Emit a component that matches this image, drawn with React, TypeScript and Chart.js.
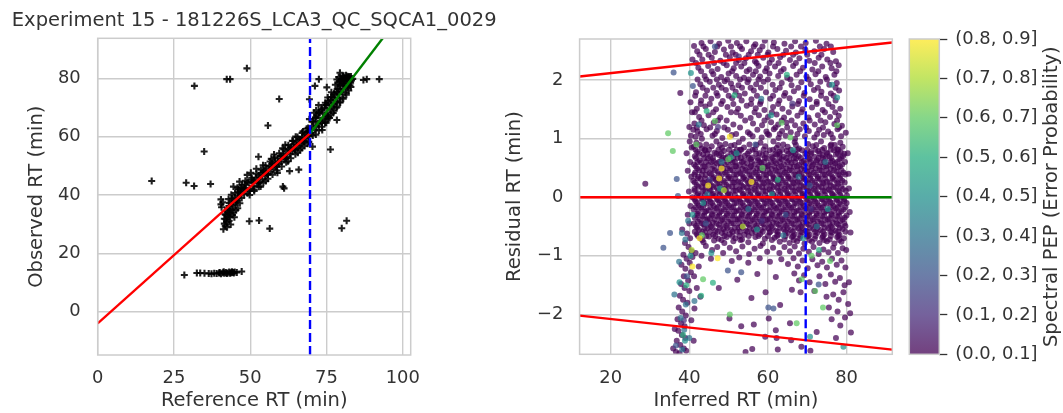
import { useEffect, useRef } from 'react';
import { Chart, registerables } from 'chart.js';

Chart.register(...registerables);

type Pt = [number, number];
type Row = [number, number[]];

const FONT = '"DejaVu Sans", sans-serif';
const INK = '#333333';
const GRID = '#cccccc';

// ---------- left panel: observed vs reference retention time ----------
const panelTitle = 'Experiment 15 - 181226S_LCA3_QC_SQCA1_0029';
const refRange = [0, 102.6];
const obsRange = [-14.8, 93.7];
const refTicks = [0, 25, 50, 75, 100];
const obsTicks = [0, 20, 40, 60, 80];
const splitRT = 69.6;
const lowerFit: Pt[] = [[0, -4.0], [69.6, 61.1]];
const upperFit: Pt[] = [[69.6, 61.1], [100, 102.7]];

const bandPoints: Pt[] = [
  [41.2,28.3],[41.8,29.5],[42.3,30.8],[41.5,31.9],[42.6,32.6],[43.1,31.2],[43.5,33.8],[42.2,34.5],[44.0,35.1],[43.0,36.2],
  [44.6,34.0],[45.1,36.8],[44.3,37.9],[42.9,38.6],[45.6,38.3],[46.2,39.9],[45.0,40.7],[43.8,40.1],[46.8,41.2],[45.8,42.5],
  [44.5,42.9],[47.3,43.4],[46.5,44.6],[47.9,42.0],[48.4,44.9],[43.6,29.9],[44.8,32.4],[45.9,35.5],[46.6,37.2],[47.2,39.0],
  [48.0,40.3],[41.0,37.5],[40.6,35.8],[42.0,33.2],[43.3,35.0],[44.9,39.2],[46.0,41.0],
  [41.5,30.2],[42.4,29.0],[42.0,31.7],[42.9,34.0],[43.4,32.5],[44.2,33.2],[44.4,36.4],[45.3,34.9],[45.4,37.6],[46.0,38.9],
  [43.2,37.3],[44.0,38.8],[46.9,40.3],[47.5,41.6],[47.0,42.6],[48.2,43.6],[42.6,35.5],[41.7,33.4],
  [48.6,42.3],[49.1,40.6],[49.5,44.1],[50.0,42.2],[50.4,45.3],[50.9,43.1],[51.3,41.9],[51.8,45.9],[52.2,44.0],[52.7,46.8],
  [53.1,44.6],[53.6,47.5],[54.0,45.4],[54.5,48.3],[54.9,46.5],[55.4,49.1],[55.8,47.2],[56.3,49.9],[56.7,48.0],[57.2,51.0],
  [57.6,48.9],[58.1,51.6],[58.5,49.8],[59.0,52.5],[59.4,50.6],[59.9,53.3],[60.3,51.5],[60.8,54.0],[61.2,52.4],[61.7,55.0],
  [62.1,53.2],[62.6,55.7],[63.0,54.1],[63.5,56.6],[63.9,55.0],[64.4,57.4],[64.8,55.9],[65.3,58.3],[65.7,56.8],[66.2,59.1],
  [66.6,57.5],[67.1,59.9],[67.5,58.4],[68.0,60.7],[68.4,59.3],[68.9,61.6],[69.3,60.1],
  [50.2,47.6],[52.0,49.0],[53.4,42.9],[55.1,44.8],[56.9,52.4],[58.9,47.6],[60.6,56.0],[62.4,51.6],[63.8,58.6],[65.6,54.5],
  [67.3,61.8],[68.8,57.6],[49.0,46.9],[54.2,50.2],[57.8,53.9],[61.5,57.2],[64.9,60.0],[66.9,56.1],[69.0,63.0],
  [51.0,44.4],[53.0,46.0],[55.0,47.8],[57.0,49.6],[59.2,51.4],[61.0,53.3],[63.2,55.3],[65.1,57.1],[67.0,58.8],[68.6,60.5],
  [49.0,44.5],[50.5,45.9],[52.0,47.3],[53.5,48.7],[55.0,50.1],[56.5,51.5],[58.0,52.9],[59.5,54.3],[61.0,55.7],[62.5,57.1],
  [64.0,58.5],[65.5,59.9],[67.0,61.3],[68.5,62.7],
  [49.8,40.0],[51.3,41.4],[52.8,42.8],[54.3,44.2],[55.8,45.6],[57.3,47.0],[58.8,48.4],[60.3,49.8],[61.8,51.2],[63.3,52.6],
  [64.8,54.0],[66.3,55.4],[67.8,56.8],[69.2,58.2],
  [48.2,42.2],[49.7,41.4],[51.2,45.0],[52.7,44.2],[54.2,47.8],[55.7,47.0],[57.2,50.6],[58.7,49.8],[60.2,53.4],[61.7,52.7],
  [63.2,56.3],[64.7,55.5],[66.2,59.1],[67.7,58.3],[69.2,61.9],
  [69.9,61.2],[70.2,63.5],[70.5,60.4],[70.8,65.0],[71.1,62.3],[71.4,66.4],[71.7,63.6],[72.0,67.3],[72.3,64.2],[72.6,68.4],
  [72.9,65.5],[73.2,69.2],[73.5,64.7],[73.8,67.9],[74.1,66.1],[74.4,69.8],[74.7,67.2],[75.0,70.9],[75.3,68.3],[75.6,66.9],
  [75.9,71.5],[76.2,69.4],[76.5,72.6],[76.8,70.3],[77.1,73.5],[77.4,71.2],[77.7,74.4],[78.0,72.1],[78.3,75.3],[78.6,73.2],
  [78.9,76.4],[79.2,74.6],[79.5,77.5],[79.8,75.5],[80.1,78.6],[80.4,76.4],[80.7,79.4],[81.0,77.5],[81.3,80.0],[81.6,78.3],
  [81.9,79.6],[82.2,80.3],[82.5,79.0],[82.8,80.1],[83.2,79.3],[83.6,79.8],[78.4,79.6],[79.0,80.4],[79.7,79.2],[80.3,80.6],
  [80.9,79.8],[77.9,77.8],[76.6,75.2],[75.4,73.4],[74.6,71.6],[73.6,62.3],[74.9,64.8],[76.0,66.4],[77.2,68.1],[78.2,69.9],
  [79.3,71.8],[80.2,73.4],[81.2,75.1],[82.0,76.9],[82.7,77.6],[71.6,69.0],[70.9,68.2],[72.4,70.8],
  [70.5,65.3],[71.5,66.7],[72.5,68.1],[73.5,69.4],[74.5,70.8],[75.5,72.2],[76.5,73.6],[77.5,74.9],[78.5,76.3],[79.5,77.7],[80.5,79.0],
  [71.5,60.7],[72.5,62.1],[73.5,63.4],[74.5,64.8],[75.5,66.2],[76.5,67.6],[77.5,68.9],[78.5,70.3],[79.5,71.7],[80.5,73.0],
  [81.5,74.4],[82.3,75.8],[83.0,77.0],
  [78.8,78.3],[79.3,79.0],[80.0,79.7],[80.6,80.9],[81.4,81.0],[81.8,80.7],[82.4,80.6],[83.0,80.6],[80.8,78.2],[81.7,77.3],[82.9,78.5],
];

const strayPoints: Pt[] = [
  [48.9,83.4],[42.3,79.7],[43.4,79.7],[31.7,77.4],[59.5,72.9],[55.8,63.8],[34.9,54.9],[17.7,44.8],[29.0,44.2],[31.6,43.1],
  [37.0,43.8],[40.4,38.5],[40.4,36.8],[46.1,42.0],[49.7,31.0],[52.9,31.3],[56.4,28.5],[61.1,42.3],[62.9,48.2],[65.9,48.7],
  [70.4,56.6],[76.3,55.6],[80.0,28.6],[81.6,31.2],[79.4,81.9],[72.5,79.7],[71.2,77.4],[87.1,79.4],[88.2,79.7],[92.3,79.7],
  [75.1,76.9],[69.4,72.8],[69.4,66.0],[78.4,65.7],[52.7,53.1],[60.7,42.9],
];

const earlyCluster: Pt[] = [
  [28.4,12.6],[32.5,13.3],[33.6,13.3],[35.0,13.2],[36.4,13.1],[37.3,13.0],[38.2,13.2],[39.0,13.1],[39.8,13.3],[40.4,13.0],
  [41.0,13.4],[41.5,13.2],[42.0,13.5],[42.6,13.3],[43.1,13.6],[43.7,13.4],[44.3,13.5],[44.9,13.6],[45.6,13.5],[47.2,13.8],
  [40.0,13.5],[41.3,13.7],[42.3,13.1],[43.4,13.2],[44.0,13.7],[44.6,13.3],
];

// ---------- right panel: residual vs inferred retention time ----------
const inferredRange = [12.09, 91.63];
const residualRange = [-2.68, 2.7];
const inferredTicks = [20, 40, 60, 80];
const residualTicks = [-2, -1, 0, 1, 2];
const zeroLeft: Pt[] = [[12.09, 0], [69.6, 0]];
const zeroRight: Pt[] = [[69.6, 0], [91.63, 0]];
const upperBound: Pt[] = [[12.09, 2.06], [91.63, 2.64]];
const lowerBound: Pt[] = [[12.09, -2.02], [91.63, -2.6]];

const pepBinLabels = [
  '(0.0, 0.1]', '(0.1, 0.2]', '(0.2, 0.3]', '(0.3, 0.4]', '(0.4, 0.5]',
  '(0.5, 0.6]', '(0.6, 0.7]', '(0.7, 0.8]', '(0.8, 0.9]',
];
const pepColorbarTitle = 'Spectral PEP (Error Probability)';
const viridis = ['#440154', '#472d7b', '#3b528b', '#2c728e', '#21918c', '#28ae80', '#5ec962', '#addc30', '#fde725'];

const pep0Core: Pt[] = [
  [41.8,0.93],[44.3,0.9],[46.9,0.95],[49.2,0.91],[52.6,0.94],[55.3,0.9],[58.1,0.93],[61.4,0.95],[63.9,0.9],[66.8,0.94],[70.2,0.91],[73.5,0.95],[76.1,0.9],[78.4,0.93],
  [41.1,0.86],[43.2,0.83],[45.7,0.87],[48.3,0.84],[50.6,0.88],[53.9,0.85],[56.7,0.82],[59.3,0.87],[62.2,0.84],[65.0,0.86],[67.9,0.83],[71.4,0.87],[74.3,0.84],[75.9,0.88],[77.6,0.82],[79.0,0.86],
  [42.0,0.77],[44.1,0.8],[46.4,0.76],[48.8,0.79],[51.3,0.77],[52.9,0.81],[55.2,0.78],[57.8,0.75],[60.4,0.8],[62.9,0.77],[64.8,0.79],[66.5,0.76],[68.7,0.8],[70.9,0.77],[72.8,0.79],[74.9,0.76],[76.8,0.8],[78.5,0.77],
  [41.4,0.7],[43.5,0.73],[45.3,0.69],[47.6,0.72],[49.8,0.7],[51.9,0.74],[54.1,0.71],[56.0,0.68],[58.6,0.72],[60.9,0.7],[62.3,0.73],[64.0,0.69],[65.9,0.72],[67.8,0.7],[69.9,0.73],[71.8,0.69],[73.9,0.72],[75.6,0.7],[77.3,0.73],[79.1,0.7],
  [42.6,0.63],[44.7,0.66],[46.1,0.62],[48.2,0.65],[50.4,0.63],[52.3,0.67],[53.8,0.62],[55.6,0.65],[57.5,0.63],[59.7,0.66],[61.6,0.62],[63.5,0.65],[65.4,0.63],[67.2,0.66],[69.1,0.62],[70.6,0.65],[72.5,0.63],[74.6,0.66],[76.4,0.62],[78.2,0.65],
  [41.2,0.56],[43.0,0.59],[44.9,0.55],[47.0,0.58],[48.9,0.56],[51.0,0.6],[52.8,0.55],[54.7,0.58],[56.6,0.56],[58.3,0.59],[60.2,0.55],[62.1,0.58],[64.1,0.56],[66.0,0.59],[67.9,0.55],[69.6,0.58],[71.5,0.56],[73.4,0.59],[75.3,0.55],[77.1,0.58],[78.9,0.56],
  [42.0,0.49],[43.9,0.52],[45.8,0.48],[47.9,0.51],[49.7,0.49],[51.6,0.53],[53.5,0.48],[55.4,0.51],[57.3,0.49],[59.1,0.52],[61.0,0.48],[62.8,0.51],[64.7,0.49],[66.6,0.52],[68.5,0.48],[70.3,0.51],[72.2,0.49],[74.1,0.52],[76.0,0.48],[77.8,0.51],
  [41.5,0.42],[43.4,0.45],[45.2,0.41],[47.2,0.44],[49.1,0.42],[51.0,0.46],[52.9,0.41],[54.8,0.44],[56.8,0.42],[58.7,0.45],[60.5,0.41],[62.4,0.44],[64.3,0.42],[66.1,0.45],[68.0,0.41],[69.9,0.44],[71.7,0.42],[73.6,0.45],[75.5,0.41],[77.4,0.44],[79.2,0.42],
  [42.3,0.35],[44.2,0.38],[46.2,0.34],[48.1,0.37],[50.1,0.35],[52.0,0.39],[53.9,0.34],[55.8,0.37],[57.7,0.35],[59.6,0.38],[61.5,0.34],[63.4,0.37],[65.2,0.35],[67.1,0.38],[69.0,0.34],[70.8,0.37],[72.7,0.35],[74.5,0.38],[76.5,0.34],[78.3,0.37],
  [41.0,0.28],[42.9,0.31],[44.8,0.27],[46.7,0.3],[48.6,0.28],[50.5,0.32],[52.4,0.27],[54.3,0.3],[56.2,0.28],[58.1,0.31],[60.0,0.27],[61.9,0.3],[63.8,0.28],[65.7,0.31],[67.6,0.27],[69.5,0.3],[71.3,0.28],[73.2,0.31],[75.0,0.27],[77.0,0.3],[78.9,0.28],
  [41.9,0.21],[43.8,0.24],[45.7,0.2],[47.6,0.23],[49.5,0.21],[51.4,0.25],[53.3,0.2],[55.2,0.23],[57.1,0.21],[59.0,0.24],[60.9,0.2],[62.8,0.23],[64.8,0.21],[66.6,0.24],[68.5,0.2],[70.4,0.23],[72.3,0.21],[74.1,0.24],[76.0,0.2],[77.9,0.23],
  [41.3,0.14],[43.2,0.17],[45.1,0.13],[47.0,0.16],[48.9,0.14],[50.9,0.18],[52.7,0.13],[54.6,0.16],[56.6,0.14],[58.5,0.17],[60.4,0.13],[62.3,0.16],[64.2,0.14],[66.0,0.17],[67.9,0.13],[69.8,0.16],[71.7,0.14],[73.6,0.17],[75.5,0.13],[77.3,0.16],[79.1,0.14],
  [42.2,0.07],[44.1,0.1],[46.0,0.06],[47.9,0.09],[49.9,0.07],[51.8,0.11],[53.7,0.06],[55.6,0.09],[57.5,0.07],[59.4,0.1],[61.3,0.06],[63.2,0.09],[65.0,0.07],[66.9,0.1],[68.8,0.06],[70.7,0.09],[72.6,0.07],[74.5,0.1],[76.3,0.06],[78.2,0.09],
  [40.8,0.0],[42.8,0.03],[44.7,-0.01],[46.6,0.02],[48.5,0.0],[50.4,0.04],[52.3,-0.01],[54.2,0.02],[56.1,0.0],[58.0,0.03],[59.9,-0.01],[61.8,0.02],[63.7,0.0],[65.6,0.03],[67.5,-0.01],[69.3,0.02],[71.2,0.0],[73.1,0.03],[75.0,-0.01],[76.9,0.02],[78.8,0.0],[80.1,0.03],
  [41.6,-0.07],[43.5,-0.04],[45.4,-0.08],[47.3,-0.05],[49.2,-0.07],[51.1,-0.03],[53.0,-0.08],[54.9,-0.05],[56.9,-0.07],[58.8,-0.04],[60.7,-0.08],[62.6,-0.05],[64.5,-0.07],[66.3,-0.04],[68.2,-0.08],[70.1,-0.05],[72.0,-0.07],[73.9,-0.04],[75.8,-0.08],[77.6,-0.05],[79.4,-0.07],
  [42.4,-0.14],[44.3,-0.11],[46.2,-0.15],[48.2,-0.12],[50.1,-0.14],[52.0,-0.1],[53.9,-0.15],[55.8,-0.12],[57.7,-0.14],[59.6,-0.11],[61.5,-0.15],[63.4,-0.12],[65.3,-0.14],[67.2,-0.11],[69.1,-0.15],[71.0,-0.12],[72.9,-0.14],[74.8,-0.11],[76.7,-0.15],[78.5,-0.12],
  [41.1,-0.21],[43.0,-0.18],[44.9,-0.22],[46.9,-0.19],[48.8,-0.21],[50.7,-0.17],[52.6,-0.22],[54.5,-0.19],[56.4,-0.21],[58.3,-0.18],[60.2,-0.22],[62.1,-0.19],[64.0,-0.21],[65.9,-0.18],[67.8,-0.22],[69.7,-0.19],[71.6,-0.21],[73.5,-0.18],[75.4,-0.22],[77.3,-0.19],[79.2,-0.21],
  [42.0,-0.28],[43.9,-0.25],[45.8,-0.29],[47.7,-0.26],[49.6,-0.28],[51.5,-0.24],[53.4,-0.29],[55.3,-0.26],[57.2,-0.28],[59.1,-0.25],[61.0,-0.29],[62.9,-0.26],[64.8,-0.28],[66.7,-0.25],[68.6,-0.29],[70.5,-0.26],[72.4,-0.28],[74.3,-0.25],[76.2,-0.29],[78.0,-0.26],
  [41.4,-0.35],[43.3,-0.32],[45.2,-0.36],[47.1,-0.33],[49.0,-0.35],[50.9,-0.31],[52.8,-0.36],[54.8,-0.33],[56.7,-0.35],[58.6,-0.32],[60.5,-0.36],[62.4,-0.33],[64.3,-0.35],[66.2,-0.32],[68.1,-0.36],[70.0,-0.33],[71.9,-0.35],[73.8,-0.32],[75.7,-0.36],[77.6,-0.33],[79.5,-0.35],
  [42.2,-0.42],[44.1,-0.39],[46.0,-0.43],[48.0,-0.4],[49.9,-0.42],[51.8,-0.38],[53.7,-0.43],[55.6,-0.4],[57.5,-0.42],[59.4,-0.39],[61.3,-0.43],[63.2,-0.4],[65.1,-0.42],[67.0,-0.39],[68.9,-0.43],[70.8,-0.4],[72.7,-0.42],[74.6,-0.39],[76.5,-0.43],[78.4,-0.4],
  [41.7,-0.49],[43.6,-0.46],[45.5,-0.5],[47.5,-0.47],[49.4,-0.49],[51.3,-0.45],[53.2,-0.5],[55.1,-0.47],[57.0,-0.49],[58.9,-0.46],[60.8,-0.5],[62.7,-0.47],[64.6,-0.49],[66.5,-0.46],[68.4,-0.5],[70.3,-0.47],[72.2,-0.49],[74.1,-0.46],[76.0,-0.5],[77.9,-0.47],[79.7,-0.49],
  [42.5,-0.56],[44.6,-0.53],[46.7,-0.57],[48.6,-0.54],[50.6,-0.56],[52.5,-0.52],[54.4,-0.57],[56.3,-0.54],[58.2,-0.56],[60.1,-0.53],[62.0,-0.57],[63.9,-0.54],[65.8,-0.56],[67.7,-0.53],[69.6,-0.57],[71.5,-0.54],[73.4,-0.56],[75.3,-0.53],[77.2,-0.57],[79.0,-0.54],
  [41.9,-0.63],[44.0,-0.6],[46.1,-0.64],[48.3,-0.61],[50.2,-0.63],[52.1,-0.59],[54.0,-0.64],[55.9,-0.61],[58.0,-0.63],[60.4,-0.6],[62.6,-0.64],[64.9,-0.61],[66.8,-0.63],[68.7,-0.6],[70.6,-0.64],[72.5,-0.61],[74.4,-0.63],[76.3,-0.6],[78.2,-0.64],
  [42.8,-0.7],[45.0,-0.67],[47.4,-0.71],[49.5,-0.68],[51.7,-0.7],[53.4,-0.72],[56.8,-0.68],[59.2,-0.71],[61.7,-0.69],[64.2,-0.72],[66.1,-0.68],[68.0,-0.7],[69.9,-0.67],[71.9,-0.71],[73.8,-0.69],[75.7,-0.72],[77.6,-0.68],[79.3,-0.7],
  [43.6,-0.77],[46.3,-0.74],[48.9,-0.78],[51.2,-0.75],[55.0,-0.77],[58.7,-0.79],[63.0,-0.76],[65.5,-0.78],[67.4,-0.75],[69.3,-0.79],[71.2,-0.76],[73.1,-0.78],[75.0,-0.75],[76.9,-0.79],[78.7,-0.76],
  [40.1,0.95],[39.6,0.45],[40.0,-0.45],[39.3,0.75],[80.5,0.4],[80.8,-0.25],[80.3,0.75],[81.0,-0.6],[80.6,0.15],[41.0,1.15],[40.4,1.05],[79.8,1.1],[79.9,-0.9],
];

// second pass through the crowded centre: residual level, then the inferred RTs seen at that level
const pep0CoreRows: Row[] = [
  [0.89, [42.7,47.8,51.5,57.1,62.6,67.1,72.3,77.0]],
  [0.81, [41.6,43.9,45.0,47.4,50.1,52.1,53.2,56.1,58.9,61.3,63.6,65.8,67.5,70.0,72.1,73.8,76.0,77.9]],
  [0.74, [42.5,44.6,46.9,48.1,50.7,52.6,54.8,57.0,59.5,61.9,63.0,65.2,67.0,69.5,71.0,73.1,75.1,77.8,79.4]],
  [0.67, [41.7,43.8,46.0,48.6,49.3,51.2,53.1,55.1,57.4,59.2,61.2,62.9,64.7,66.6,68.4,70.4,72.9,74.0,76.1,78.6]],
  [0.6, [42.1,44.3,45.6,47.5,49.6,51.6,53.4,55.9,57.9,59.0,60.8,63.0,64.9,66.9,68.6,70.9,72.2,74.3,75.9,77.6,79.6]],
  [0.53, [41.6,43.5,46.3,48.2,50.2,51.9,54.0,55.7,57.8,59.9,61.6,63.4,65.6,67.4,69.0,71.2,73.0,74.8,76.6,78.3]],
  [0.46, [42.5,44.4,46.5,48.6,50.4,52.4,54.3,56.2,58.0,60.0,62.0,63.8,65.5,67.5,69.4,71.0,73.1,74.9,76.8,78.7]],
  [0.39, [41.3,43.2,45.6,47.5,49.5,51.4,53.4,55.3,57.2,59.0,61.1,62.9,64.8,66.7,68.5,70.4,72.2,74.0,76.0,77.9,79.7]],
  [0.32, [42.1,44.0,46.0,47.8,49.9,51.7,53.7,55.6,57.6,59.5,61.4,63.3,65.2,67.0,69.0,70.8,72.7,74.6,76.4,78.4]],
  [0.25, [41.4,43.4,45.2,47.1,49.0,51.0,52.9,54.9,56.8,58.6,60.6,62.5,64.4,66.3,68.1,70.0,71.9,73.8,75.7,77.6,79.5]],
  [0.18, [42.3,44.2,46.1,48.0,50.0,51.9,53.8,55.8,57.7,59.6,61.5,63.4,65.3,67.2,69.1,71.0,72.9,74.8,76.7,78.6]],
  [0.11, [41.4,43.5,45.4,47.3,49.3,51.2,53.1,55.0,56.9,58.8,60.8,62.7,64.6,66.4,68.3,70.2,72.1,74.0,75.9,77.8,79.8]],
  [0.04, [42.0,44.0,45.8,47.7,49.8,51.6,53.6,55.5,57.4,59.3,61.2,63.1,65.0,67.0,68.8,70.7,72.6,74.5,76.5,78.4]],
  [-0.03, [41.3,43.1,45.1,47.0,48.9,50.8,52.7,54.6,56.5,58.4,60.3,62.2,64.1,66.0,67.9,69.8,71.7,73.6,75.5,77.4,79.3]],
  [-0.1, [42.0,43.8,45.8,47.7,49.6,51.5,53.5,55.4,57.3,59.2,61.1,63.0,64.9,66.8,68.7,70.6,72.5,74.3,76.3,78.1,80.0]],
  [-0.17, [41.6,43.5,45.4,47.3,49.3,51.2,53.1,55.0,56.9,58.8,60.7,62.6,64.5,66.4,68.3,70.2,72.1,74.0,75.9,77.8,79.7]],
  [-0.24, [42.4,44.3,46.3,48.2,50.1,52.0,53.9,55.8,57.7,59.6,61.5,63.5,65.4,67.3,69.2,71.1,73.0,74.9,76.8,78.7]],
  [-0.31, [41.9,43.8,45.7,47.6,49.5,51.4,53.3,55.2,57.1,59.0,61.0,62.9,64.8,66.7,68.6,70.5,72.4,74.3,76.2,78.1,80.0]],
  [-0.38, [42.7,44.6,46.5,48.4,50.4,52.3,54.2,56.1,58.0,59.9,61.8,63.7,65.6,67.5,69.5,71.4,73.3,75.2,77.1,79.0]],
  [-0.45, [41.2,43.1,45.0,46.9,48.8,50.7,52.7,54.6,56.5,58.4,60.3,62.2,64.1,66.0,67.9,69.8,71.7,73.6,75.6,77.5,79.4]],
  [-0.52, [42.0,43.9,45.9,47.8,49.7,51.6,53.5,55.4,57.3,59.2,61.2,63.1,65.0,66.9,68.8,70.7,72.6,74.5,76.4,78.3]],
  [-0.59, [41.4,43.3,45.3,47.2,49.1,51.0,52.9,54.8,56.8,58.7,60.6,62.5,64.4,66.3,68.2,70.1,72.0,74.0,75.9,77.8,79.7]],
  [-0.66, [42.2,44.3,46.6,48.9,50.9,52.8,55.1,57.6,60.0,62.3,64.5,66.4,68.3,70.2,72.1,74.0,76.0,77.9]],
  [-0.73, [43.3,48.2,53.0,61.0,66.6,70.5,74.3,78.1]],
  [1.08, [42.9,46.5,51.9,55.4,59.9,63.0,67.5,72.5,76.0]],
  [1.19, [41.9,45.3,48.9,52.9,61.9,64.9,69.7,74.0,78.1]],
  [1.31, [43.1,47.3,49.5,54.2,59.1,63.5,66.0,70.6,73.4,77.6]],
  [1.45, [41.4,46.1,50.6,52.0,56.6,61.0,65.3,68.5,74.5,77.1]],
  [1.59, [42.9,45.2,48.1,51.2,55.7,58.0,62.6,67.6,72.4,75.4]],
  [1.73, [41.5,44.1,47.2,50.0,52.7,57.2,61.3,64.1,69.1,73.5,76.7]],
  [1.87, [43.4,46.1,48.2,51.0,53.4,55.6,58.2,63.0,67.7,72.7,77.2]],
  [2.01, [42.1,44.3,47.0,49.6,52.9,55.1,57.6,60.0,65.7,70.3,75.0]],
  [2.15, [43.0,45.7,50.9,54.6,56.9,59.3,63.3,68.2,72.8,77.4]],
  [2.29, [41.7,46.3,48.7,51.9,54.0,57.1,60.4,62.7,67.1,71.9,75.9]],
  [2.43, [42.6,44.9,49.3,51.8,55.1,57.4,59.9,63.9,66.4,70.0,73.6]],
  [2.57, [43.6,47.1,50.6,52.9,56.4,58.6,61.3,65.9,68.4,73.2,76.0]],
];

const pep0Upper: Pt[] = [
  [41.6,1.03],[43.2,1.0],[45.9,1.05],[48.4,1.01],[50.8,1.06],[53.6,1.0],[56.1,1.04],[58.4,1.02],[60.3,1.06],[62.7,1.01],[64.5,1.05],[66.9,1.0],[69.4,1.04],[71.8,1.02],[74.2,1.06],[76.5,1.01],[78.6,1.04],
  [42.1,1.12],[44.4,1.16],[47.0,1.13],[49.8,1.15],[54.9,1.11],[57.3,1.15],[59.6,1.12],[61.5,1.16],[63.6,1.13],[65.8,1.11],[68.1,1.16],[70.4,1.13],[73.0,1.15],[75.3,1.12],[77.7,1.16],
  [41.3,1.26],[43.7,1.23],[46.2,1.27],[51.2,1.24],[56.2,1.26],[58.5,1.23],[60.8,1.28],[62.6,1.24],[64.7,1.27],[66.9,1.23],[69.0,1.26],[71.9,1.24],[74.6,1.28],[76.9,1.25],[78.8,1.22],
  [42.5,1.37],[44.9,1.4],[47.9,1.36],[53.1,1.39],[55.6,1.35],[57.7,1.4],[60.0,1.37],[62.2,1.41],[64.1,1.36],[67.5,1.39],[70.3,1.36],[72.7,1.4],[75.8,1.37],[78.0,1.39],
  [41.9,1.51],[44.1,1.55],[46.8,1.5],[49.7,1.54],[52.4,1.51],[54.6,1.56],[56.9,1.52],[59.1,1.49],[61.3,1.54],[63.7,1.51],[66.2,1.55],[68.8,1.5],[71.2,1.53],[73.9,1.49],[76.4,1.54],[78.4,1.51],
  [43.0,1.65],[45.6,1.68],[48.5,1.64],[50.9,1.69],[53.3,1.65],[55.8,1.67],[58.2,1.63],[60.6,1.68],[62.9,1.65],[65.5,1.69],[67.9,1.64],[70.6,1.67],[72.4,1.63],[74.8,1.68],[77.2,1.65],
  [41.7,1.79],[44.5,1.82],[46.9,1.78],[49.3,1.83],[51.8,1.8],[54.1,1.77],[56.4,1.82],[59.5,1.79],[61.9,1.83],[64.4,1.78],[66.6,1.81],[69.3,1.78],[71.7,1.83],[73.6,1.8],[76.0,1.77],[78.1,1.82],
  [42.8,1.93],[45.2,1.97],[47.5,1.92],[49.0,1.98],[50.6,1.94],[52.5,1.91],[54.8,1.96],[57.0,1.93],[58.9,1.97],[61.2,1.92],[63.5,1.95],[66.0,1.91],[68.5,1.96],[70.9,1.93],[73.3,1.97],[75.6,1.92],[77.5,1.95],
  [43.9,2.07],[46.1,2.1],[48.1,2.05],[50.0,2.11],[51.9,2.07],[53.9,2.04],[56.2,2.09],[58.0,2.06],[60.4,2.11],[62.6,2.07],[64.9,2.04],[67.3,2.09],[69.8,2.06],[72.1,2.1],[74.7,2.05],[76.9,2.09],
  [42.3,2.21],[44.8,2.24],[47.2,2.19],[49.5,2.25],[51.3,2.2],[53.2,2.23],[55.3,2.18],[57.6,2.24],[59.7,2.2],[61.8,2.23],[64.0,2.19],[66.4,2.24],[68.9,2.21],[71.3,2.18],[73.8,2.23],[76.2,2.2],[78.0,2.25],
  [43.3,2.35],[45.7,2.38],[47.9,2.33],[50.3,2.39],[52.6,2.34],[54.4,2.37],[56.7,2.32],[58.8,2.38],[61.0,2.35],[63.1,2.39],[65.6,2.34],[68.0,2.37],[70.5,2.33],[72.9,2.38],[75.1,2.35],[77.3,2.32],
  [42.0,2.49],[44.2,2.53],[46.5,2.48],[48.8,2.52],[51.0,2.47],[53.4,2.53],[55.7,2.49],[57.9,2.51],[60.1,2.47],[62.4,2.53],[64.6,2.5],[67.1,2.47],[69.5,2.52],[71.8,2.49],[74.3,2.53],[76.6,2.48],
  [43.1,2.63],[45.4,2.66],[47.6,2.62],[49.9,2.67],[52.1,2.63],[54.5,2.66],[56.8,2.61],[59.2,2.67],[61.5,2.64],[64.2,2.62],[66.9,2.66],[69.6,2.63],[72.2,2.67],[74.9,2.62],
  [28.8,0.23],[37.7,1.78],[40.3,1.62],[40.8,2.35],[41.2,2.58],[40.0,1.2],[40.7,1.45],[40.2,0.6],[40.6,0.85],
];

const pep0Lower: Pt[] = [
  [44.2,-0.83],[45.8,-0.9],[47.1,-0.85],[48.6,-0.95],[50.3,-0.86],[51.9,-0.92],[53.5,-0.84],[55.2,-0.97],[56.6,-0.88],[58.1,-0.83],[59.8,-0.93],[61.3,-0.86],[62.9,-0.95],
  [64.2,-0.85],[65.6,-0.92],[66.8,-0.84],[67.9,-0.96],[69.0,-0.88],[70.4,-0.93],[71.6,-0.85],[72.9,-0.97],[74.1,-0.89],[75.4,-0.94],[76.6,-0.86],[77.8,-0.95],[79.0,-0.87],
  [45.5,-1.05],[50.8,-1.09],[52.7,-1.03],[55.0,-1.12],[57.9,-1.04],[60.5,-1.1],[63.4,-1.06],[65.1,-1.14],[66.5,-1.04],[67.6,-1.18],[68.8,-1.08],[70.1,-1.21],[71.3,-1.06],
  [72.6,-1.16],[73.8,-1.1],[75.0,-1.2],[76.3,-1.05],[77.5,-1.15],[78.7,-1.08],[79.7,-1.2],
  [52.2,-1.41],[57.3,-1.31],[62.0,-1.36],[66.7,-1.3],[67.9,-1.42],[69.2,-1.33],[70.6,-1.45],[73.1,-1.35],[74.6,-1.48],[76.0,-1.32],[77.1,-1.44],[78.3,-1.38],[79.5,-1.5],[80.6,-1.45],
  [66.1,-1.58],[68.3,-1.62],[71.8,-1.6],[74.9,-1.7],[76.6,-1.66],[78.0,-1.75],[79.2,-1.62],[80.4,-1.82],[75.5,-1.88],[77.7,-1.95],[79.6,-2.05],[80.9,-1.98],
  [47.5,-1.55],[55.8,-1.72],[59.4,-1.62],[63.1,-1.84],
  [50.2,-2.07],[56.4,-2.17],[60.2,-2.07],[62.0,-2.27],[62.2,-2.4],[59.3,-2.38],[65.9,-2.44],[54.3,-2.64],[56.0,-2.59],[62.5,-2.6],[65.6,-2.15],[76.2,-2.08],
  [77.3,-2.4],[78.4,-2.19],[81.1,-2.31],[72.4,-2.3],[68.5,-2.55],[53.2,-2.2],[70.8,-2.62],
];

const pep0Tail: Pt[] = [
  [38.2,-0.55],[39.4,-0.62],[40.2,-0.7],[38.9,-0.78],[39.8,-0.85],[40.6,-0.92],[38.5,-0.98],[39.3,-1.05],[40.1,-1.12],[38.0,-1.15],[39.0,-1.22],[40.4,-1.28],
  [38.6,-1.35],[39.7,-1.42],[37.9,-1.48],[38.8,-1.55],[40.0,-1.6],[37.6,-1.68],[38.4,-1.75],[39.5,-1.8],[37.3,-1.88],[38.2,-1.95],[39.1,-2.02],[37.0,-2.08],
  [37.9,-2.15],[38.8,-2.2],[37.2,-2.28],[38.1,-2.35],[39.0,-2.4],[36.8,-2.45],[37.7,-2.52],[38.6,-2.58],[36.6,-2.64],[37.5,-2.66],[39.2,-2.62],[40.8,-1.02],
  [41.2,-1.35],[41.6,-0.95],[42.4,-1.18],[43.1,-1.0],[41.9,-1.55],[42.8,-1.7],[41.3,-1.9],[40.5,-2.1],[41.1,-2.45],[36.3,-2.25],[35.9,-2.58],
  [39.6,-0.3],[40.3,-0.15],[39.9,0.1],[40.5,0.35],
];

const pep1: Pt[] = [[45.2,0.3],[58.4,-0.4],[66.2,1.6],[38.6,-2.1],[52.6,2.4],[70.9,-0.2],[47.3,1.2]];
const pep2: Pt[] = [
  [36.0,2.13],[46.5,2.57],[33.4,-0.86],[35.1,-0.61],[37.1,0.02],[36.8,0.31],[53.2,-1.28],[49.8,-1.25],[60.1,-1.88],
  [61.4,-1.9],[72.9,-1.49],[36.6,-2.53],[40.9,1.9],[56.8,0.9],[64.5,-0.3],[70.6,0.2],[44.2,-0.45],[39.4,-1.35],
];
const pep3: Pt[] = [
  [38.1,-0.61],[39.0,-0.72],[41.3,-1.77],[39.1,-1.83],[37.8,-2.06],[38.7,-2.26],[36.2,-1.66],[40.0,-2.4],[37.4,-1.1],[38.2,-2.6],
  [63.9,-0.65],[74.6,0.6],[42.4,1.24],[48.2,0.6],[55.0,-0.2],[67.8,0.35],[58.3,1.68],[44.6,0.05],[72.4,-0.5],[39.7,-0.4],
];
const pep4: Pt[] = [
  [40.4,2.12],[76.3,1.92],[77.6,1.7],[60.8,1.4],[70.7,-2.38],[79.2,-2.55],[37.5,-1.45],[38.9,-2.45],[40.3,-1.0],[45.6,-0.95],
  [43.5,-0.1],[52.0,0.75],[61.0,0.05],[69.0,-0.7],[75.2,-0.2],[40.8,-0.3],[66.4,0.8],[57.2,-0.55],[47.8,0.15],
];
const pep5: Pt[] = [[43.0,-1.68],[46.0,-1.46],[44.4,1.47],[64.8,2.09],[51.5,1.74],[50.5,0.68],[62.5,0.3],[73.0,-0.9],[39.2,-1.5],[38.4,-2.35]];
const pep6: Pt[] = [
  [34.6,1.09],[35.8,0.79],[46.5,1.3],[63.5,1.27],[65.7,1.02],[77.6,1.23],[71.1,-1.0],[75.8,-1.09],[68.6,-1.4],[72.0,-1.6],
  [67.3,-2.15],[74.0,-1.88],[50.3,-2.0],[43.5,-1.4],[41.8,0.9],[49.9,0.65],[58.6,0.5],[43.2,-0.65],
];
const pep7: Pt[] = [[48.8,0.12],[40.6,-0.9],[53.6,-0.5]];
const pep8: Pt[] = [[50.3,1.03],[48.2,0.49],[55.8,0.26],[44.8,0.2],[47.2,-1.04],[40.8,-1.18],[42.6,-0.7],[47.6,0.32]];

const rowsToPoints = (rows: Row[]): Pt[] => rows.flatMap(([y, xs]) => xs.map((x): Pt => [x, y]));

const pepGroups: Pt[][] = [
  [...pep0Core, ...rowsToPoints(pep0CoreRows), ...pep0Upper, ...pep0Lower, ...pep0Tail],
  pep1, pep2, pep3, pep4, pep5, pep6, pep7, pep8,
];

// ---------- helpers ----------
const toXY = (pts: Pt[]) => pts.map(([x, y]) => ({ x, y }));

function rgba(hex: string, a: number) {
  const n = parseInt(hex.slice(1), 16);
  return `rgba(${(n >> 16) & 255},${(n >> 8) & 255},${n & 255},${a})`;
}

const tickFont = { family: FONT, size: 17.9 };
const labelFont = { family: FONT, size: 19.5 };
const minusFmt = (v: number) => (v < 0 ? '\u2212' + Math.abs(v) : String(v));

const frame = {
  id: 'frame',
  afterDatasetsDraw(chart: any) {
    const { ctx, chartArea: a } = chart;
    ctx.save();
    ctx.strokeStyle = GRID;
    ctx.lineWidth = 1.5;
    ctx.strokeRect(a.left, a.top, a.right - a.left, a.bottom - a.top);
    ctx.restore();
  },
};

const colorbarTitle = {
  id: 'colorbarTitle',
  afterDraw(chart: any) {
    const { ctx, chartArea: a } = chart;
    ctx.save();
    ctx.translate(1052, (a.top + a.bottom) / 2);
    ctx.rotate(-Math.PI / 2);
    ctx.font = `19.5px ${FONT}`;
    ctx.fillStyle = INK;
    ctx.textAlign = 'center';
    ctx.textBaseline = 'middle';
    ctx.fillText(pepColorbarTitle, 0, 0);
    ctx.restore();
  },
};

const lineSet = (pts: Pt[], color: string, order: number, dash: number[] = []) => ({
  data: toXY(pts),
  showLine: true,
  borderColor: color,
  borderWidth: 2.4,
  borderDash: dash,
  pointRadius: 0,
  order,
});

const gridOpts = { color: GRID, lineWidth: 1.4, drawTicks: false };

export default function App() {
  const leftRef = useRef<HTMLCanvasElement>(null);
  const rightRef = useRef<HTMLCanvasElement>(null);
  const barRef = useRef<HTMLCanvasElement>(null);

  useEffect(() => {
    const charts: Chart[] = [];

    charts.push(new Chart(leftRef.current!, {
      type: 'scatter',
      data: {
        datasets: [
          lineSet([[splitRT, obsRange[0]], [splitRT, obsRange[1]]], '#0000ff', 0, [9, 4]),
          lineSet(upperFit, '#008000', 1),
          lineSet(lowerFit, '#ff0000', 2),
          {
            data: toXY([...bandPoints, ...strayPoints, ...earlyCluster]),
            pointStyle: 'cross',
            pointRadius: 3.5,
            pointBorderWidth: 2.1,
            pointBorderColor: 'rgba(0,0,0,0.88)',
            pointBackgroundColor: 'rgba(0,0,0,0.88)',
            order: 3,
          },
        ],
      } as any,
      options: {
        animation: false,
        responsive: false,
        events: [],
        layout: { padding: { left: 0, right: 554.6, top: 0, bottom: 0 } },
        plugins: {
          legend: { display: false },
          tooltip: { enabled: false },
          title: {
            display: true,
            text: panelTitle,
            color: INK,
            font: { family: FONT, size: 19.5, weight: 'normal' },
            padding: { top: 8.8, bottom: 6.1 },
          },
        },
        scales: {
          x: {
            type: 'linear',
            min: refRange[0],
            max: refRange[1],
            afterBuildTicks: (s: any) => { s.ticks = refTicks.map((v) => ({ value: v })); },
            afterFit: (s: any) => { s.height = 58; },
            grid: gridOpts,
            border: { display: false },
            ticks: { color: INK, font: tickFont, padding: 12.3, maxRotation: 0 },
            title: { display: true, text: 'Reference RT (min)', color: INK, font: labelFont, padding: { top: 0, bottom: 0 } },
          },
          y: {
            type: 'linear',
            min: obsRange[0],
            max: obsRange[1],
            afterBuildTicks: (s: any) => { s.ticks = obsTicks.map((v) => ({ value: v })); },
            afterFit: (s: any) => { s.width = 97.7; },
            grid: gridOpts,
            border: { display: false },
            ticks: { color: INK, font: tickFont, padding: 17 },
            title: { display: true, text: 'Observed RT (min)', color: INK, font: labelFont, padding: { top: 25, bottom: 0 } },
          },
          spacer: {
            type: 'linear',
            position: 'right',
            grid: { display: false },
            ticks: { display: false },
            border: { display: false },
            afterFit: (s: any) => { s.width = 97.7; },
          },
        },
      } as any,
      plugins: [frame],
    }));

    charts.push(new Chart(rightRef.current!, {
      type: 'scatter',
      data: {
        datasets: [
          lineSet([[splitRT, residualRange[0]], [splitRT, residualRange[1]]], '#0000ff', 0, [9, 4]),
          lineSet(zeroRight, '#008000', 1),
          lineSet(zeroLeft, '#ff0000', 2),
          lineSet(upperBound, '#ff0000', 2),
          lineSet(lowerBound, '#ff0000', 2),
          ...pepGroups.map((pts, i) => ({
            data: toXY(pts),
            pointRadius: 3,
            pointBorderWidth: 0,
            pointBackgroundColor: rgba(viridis[i], 0.72),
            order: 20 - i,
          })),
        ],
      } as any,
      options: {
        animation: false,
        responsive: false,
        events: [],
        layout: { padding: { left: 480, right: 170.7, top: 39, bottom: 0 } },
        plugins: { legend: { display: false }, tooltip: { enabled: false } },
        scales: {
          x: {
            type: 'linear',
            min: inferredRange[0],
            max: inferredRange[1],
            afterBuildTicks: (s: any) => { s.ticks = inferredTicks.map((v) => ({ value: v })); },
            afterFit: (s: any) => { s.height = 58.7; },
            grid: gridOpts,
            border: { display: false },
            ticks: { color: INK, font: tickFont, padding: 12.9, maxRotation: 0 },
            title: { display: true, text: 'Inferred RT (min)', color: INK, font: labelFont, padding: { top: 0, bottom: 0 } },
          },
          y: {
            type: 'linear',
            min: residualRange[0],
            max: residualRange[1],
            afterBuildTicks: (s: any) => { s.ticks = residualTicks.map((v) => ({ value: v })); },
            afterFit: (s: any) => { s.width = 99.6; },
            grid: gridOpts,
            border: { display: false },
            ticks: { color: INK, font: tickFont, padding: 16.3, callback: (v: any) => minusFmt(Number(v)) },
            title: { display: true, text: 'Residual RT (min)', color: INK, font: labelFont, padding: { top: 23.3, bottom: 0 } },
          },
        },
      } as any,
      plugins: [frame],
    }));

    charts.push(new Chart(barRef.current!, {
      type: 'bar',
      data: {
        labels: [''],
        datasets: [{
          data: [[0, pepBinLabels.length - 1]],
          borderWidth: 0,
          barPercentage: 1,
          categoryPercentage: 1,
          backgroundColor: (ctx: any) => {
            const area = ctx.chart.chartArea;
            if (!area) return rgba(viridis[0], 0.75);
            const g = ctx.chart.ctx.createLinearGradient(0, area.bottom, 0, area.top);
            viridis.forEach((c, i) => g.addColorStop(i / (viridis.length - 1), rgba(c, 0.75)));
            return g;
          },
        }],
      } as any,
      options: {
        animation: false,
        responsive: false,
        events: [],
        layout: { padding: { left: 909.3, right: 0, top: 39, bottom: 58.7 } },
        plugins: { legend: { display: false }, tooltip: { enabled: false } },
        scales: {
          x: { display: false },
          y: {
            position: 'right',
            min: 0,
            max: pepBinLabels.length - 1,
            afterBuildTicks: (s: any) => { s.ticks = pepBinLabels.map((_, i) => ({ value: i })); },
            afterFit: (s: any) => { s.width = 123.7; },
            grid: { drawOnChartArea: false, drawTicks: true, tickLength: 8, tickColor: INK, tickWidth: 1.3 },
            border: { display: false },
            ticks: { color: INK, font: tickFont, padding: 8, callback: (_v: any, i: number) => pepBinLabels[i] },
          },
        },
      } as any,
      plugins: [frame, colorbarTitle],
    }));

    return () => charts.forEach((c) => c.destroy());
  }, []);

  const layer = { position: 'absolute', left: 0, top: 0 } as const;
  return (
    <div style={{ position: 'fixed', left: 0, top: 0, width: 1063, height: 413, background: '#ffffff' }}>
      <canvas ref={leftRef} width={1063} height={413} style={layer} />
      <canvas ref={rightRef} width={1063} height={413} style={layer} />
      <canvas ref={barRef} width={1063} height={413} style={layer} />
    </div>
  );
}
